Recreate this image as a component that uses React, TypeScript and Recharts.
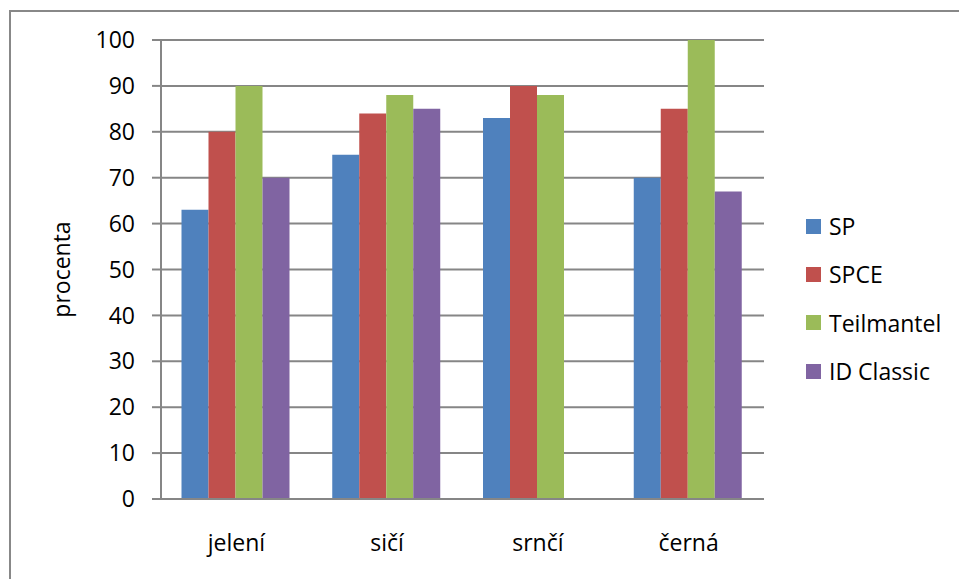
import React from 'react';
import { BarChart, Bar, XAxis, YAxis, CartesianGrid, Legend } from 'recharts';

// Categories (type of meat) and the share for each bullet type, in percent
const categories = ['jelení', 'sičí', 'srnčí', 'černá'];
const spValues = [63, 75, 83, 70];
const spceValues = [80, 84, 90, 85];
const teilmantelValues = [90, 88, 88, 100];
const idClassicValues: (number | null)[] = [70, 85, null, 67];
const yTicks = [0, 10, 20, 30, 40, 50, 60, 70, 80, 90, 100];
const yAxisTitle = 'procenta';

const series = [
  { key: 'sp', name: 'SP', color: '#4F81BD', values: spValues },
  { key: 'spce', name: 'SPCE', color: '#C0504D', values: spceValues },
  { key: 'teilmantel', name: 'Teilmantel', color: '#9BBB59', values: teilmantelValues },
  { key: 'idClassic', name: 'ID Classic', color: '#8064A2', values: idClassicValues },
];

const data = categories.map((category, i) => {
  const row: Record<string, string | number | null> = { category };
  series.forEach((s) => {
    row[s.key] = s.values[i];
  });
  return row;
});

const FONT = '"Open Sans", "Liberation Sans", sans-serif';
const GRID = '#868686';
const TEXT = '#000000';

// The legend box is 150px wide and is added to the right offset by Recharts,
// so the chart margin only keeps the remaining gap.
const LEGEND_WIDTH = 150;

const LegendList = () => (
  <div style={{ fontFamily: FONT, fontSize: 23, color: TEXT }}>
    {series.map((s) => (
      <div key={s.key} style={{ display: 'flex', alignItems: 'center', height: 48.3 }}>
        <span style={{ display: 'inline-block', width: 15, height: 15, background: s.color }} />
        <span style={{ marginLeft: 8, whiteSpace: 'nowrap' }}>{s.name}</span>
      </div>
    ))}
  </div>
);

const AxisTitle = (props: any) => {
  const vb = props.viewBox || { y: 40, height: 459 };
  const cy = vb.y + vb.height / 2;
  return (
    <text
      x={70}
      y={cy}
      transform={`rotate(-90, 70, ${cy})`}
      textAnchor="middle"
      fontFamily={FONT}
      fontSize={23}
      fill={TEXT}
    >
      {yAxisTitle}
    </text>
  );
};

export default function App() {
  return (
    <div
      style={{
        position: 'absolute',
        left: 0,
        top: 0,
        width: 959,
        height: 579,
        overflow: 'hidden',
        background: '#ffffff',
      }}
    >
      <div
        style={{
          position: 'absolute',
          left: 9,
          top: 10,
          width: 1100,
          height: 800,
          border: '2.5px solid #888888',
          boxSizing: 'border-box',
        }}
      />
      <div style={{ position: 'absolute', left: 0, top: 0 }}>
        <BarChart
          width={959}
          height={579}
          data={data}
          margin={{ top: 40, right: 195 - LEGEND_WIDTH, bottom: 20, left: 0 }}
          barCategoryGap={20.5}
          barGap={0}
        >
          <CartesianGrid vertical={false} stroke={GRID} strokeWidth={2} />
          <XAxis
            dataKey="category"
            height={60}
            tickLine={false}
            tickSize={0}
            tickMargin={36}
            axisLine={{ stroke: GRID, strokeWidth: 2 }}
            tick={{ fill: TEXT, fontFamily: FONT, fontSize: 23 }}
          />
          <YAxis
            width={161}
            domain={[0, 100]}
            ticks={yTicks}
            interval={0}
            tickSize={9}
            tickMargin={17}
            axisLine={{ stroke: GRID, strokeWidth: 2 }}
            tickLine={{ stroke: GRID, strokeWidth: 2 }}
            tick={{ fill: TEXT, fontFamily: FONT, fontSize: 23 }}
            label={<AxisTitle />}
          />
          <Legend
            layout="horizontal"
            verticalAlign="middle"
            align="right"
            wrapperStyle={{ left: 806, top: 202, width: LEGEND_WIDTH, height: 195 }}
            content={() => <LegendList />}
          />
          {series.map((s) => (
            <Bar
              key={s.key}
              dataKey={s.key}
              name={s.name}
              fill={s.color}
              isAnimationActive={false}
            />
          ))}
        </BarChart>
      </div>
    </div>
  );
}
